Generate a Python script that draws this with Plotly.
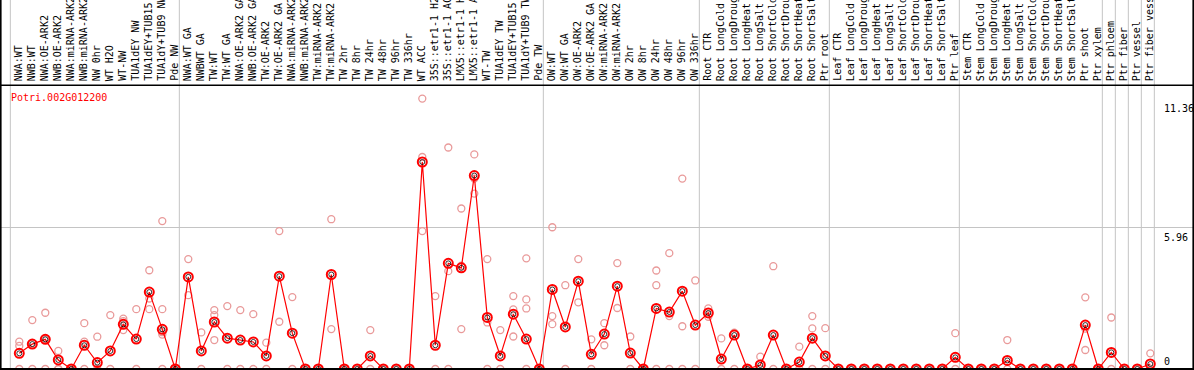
import plotly.graph_objects as go

W, H = 1194, 370

labels = ["NWA:WT", "NWB:WT", "NWA:OE-ARK2", "NWB:OE-ARK2", "NWA:miRNA-ARK2", "NWB:miRNA-ARK2",
          "NW 0hr", "WT H2O", "WT-NW", "TUA1dEY NW", "TUA1dEY+TUB15 NW", "TUA1dY+TUB9 NW", "Pde NW",
          "NWA:WT GA", "NWBWT GA", "TW:WT", "TW:WT GA", "NWA:OE-ARK2 GA", "NWB:OE-ARK2 GA",
          "TW:OE-ARK2", "TW:OE-ARK2 GA", "NWA:miRNA-ARK2", "NWB:miRNA-ARK2", "TW:miRNA-ARK2",
          "TW:miRNA-ARK2", "TW 2hr", "TW 8hr", "TW 24hr", "TW 48hr", "TW 96hr", "TW 336hr", "WT ACC",
          "35S::etr1-1 H2O", "35S::etr1-1 ACC", "LMX5::etr1-1 H2O", "LMX5::etr1-1 ACC", "WT-TW",
          "TUA1dEY TW", "TUA1dEY+TUB15 TW", "TUA1dY+TUB9 TW", "Pde TW",
          "OW:WT", "OW:WT GA", "OW:OE-ARK2", "OW:OE-ARK2 GA", "OW:miRNA-ARK2", "OW:miRNA-ARK2",
          "OW 2hr", "OW 8hr", "OW 24hr", "OW 48hr", "OW 96hr", "OW 336hr",
          "Root CTR", "Root LongCold", "Root LongDrought", "Root LongHeat", "Root LongSalt",
          "Root ShortCold", "Root ShortDrought", "Root ShortHeat", "Root ShortSalt", "Ptr root",
          "Leaf CTR", "Leaf LongCold", "Leaf LongDrought", "Leaf LongHeat", "Leaf LongSalt",
          "Leaf ShortCold", "Leaf ShortDrought", "Leaf ShortHeat", "Leaf ShortSalt", "Ptr leaf",
          "Stem CTR", "Stem LongCold", "Stem LongDrought", "Stem LongHeat", "Stem LongSalt",
          "Stem ShortCold", "Stem ShortDrought", "Stem ShortHeat", "Stem ShortSalt", "Ptr shoot",
          "Ptr xylem", "Ptr phloem", "Ptr fiber", "Ptr vessel", "Ptr fiber vessel"]

group_sizes = [13, 28, 12, 10, 10, 11, 1, 1, 1, 1]

means = [0.66, 1.05, 1.25, 0.38, 0, 1.0, 0.27, 0.76, 1.88, 1.26, 3.24, 1.67, 0,
         3.88, 0.76, 1.98, 1.30, 1.22, 1.14, 0.55, 3.91, 1.51, 0, 0, 3.98, 0, 0, 0.55, 0, 0, 0,
         8.72, 1.0, 4.45, 4.26, 8.15, 2.17, 0.55, 2.31, 1.26, 0,
         3.35, 1.77, 3.70, 0.62, 1.47, 3.49, 0.67, 0, 2.55, 2.40, 3.28, 1.85,
         2.36, 0.42, 1.43, 0, 0.17, 1.43, 0, 0.29, 1.30, 0.55,
         0, 0, 0, 0, 0, 0, 0, 0, 0, 0.49,
         0, 0, 0, 0.36, 0, 0, 0, 0, 0, 1.85, 0,
         0.70, 0, 0, 0.21]

replicates = [[1.15, 0.97, 0], [2.06, 1.08, 0], [2.37, 1.25, 0], [0.76, 0, 0], [0, 0], [1.93, 1.15, 0],
              [1.36, 0], [2.27, 0], [2.12, 2.02, 1.64], [2.52, 0], [4.16, 2.97, 2.52],
              [6.23, 2.52, 1.55, 1.45, 0], [0],
              [4.63, 3.11], [1.54, 0], [2.48, 2.27, 1.22], [2.65, 0], [2.48, 0], [2.31, 0], [1.11, 0],
              [5.81, 1.99], [3.03, 0], [0], [0], [6.31, 1.68], [0], [0], [1.64, 0], [0], [0], [0],
              [11.39, 8.93, 5.81], [3.07, 0], [9.33, 4.12, 0], [6.76, 4.35, 1.68], [9.04, 8.02, 7.39],
              [4.63, 1.96, 0], [1.64, 0], [3.07, 2.51, 1.37], [4.66, 2.93, 2.55, 0], [0],
              [5.97, 2.23, 1.89], [3.53, 0], [4.63, 2.81], [1.25, 0], [1.93, 1.0], [4.46, 2.57],
              [1.37, 0], [0], [4.15, 3.53, 0], [4.88, 2.23, 0], [8.02, 1.8, 0], [3.73, 0],
              [2.55, 2.2], [1.29, 0], [1.53, 0], [0], [0.52, 0], [4.33, 0], [0], [0.94, 0],
              [2.23, 1.71, 0], [1.72, 0],
              [0], [0], [0], [0], [0], [0], [0], [0], [0], [1.51, 0],
              [0], [0], [0], [1.22, 0], [0], [0], [0], [0], [0], [3.02, 1.70, 0.8], [0],
              [2.17, 0], [0], [0], [0.66, 0]]

tick_values = [0, 5.96, 11.36]
gene = "Potri.002G012200"

FONT = "DejaVu Sans Mono"

# pixel geometry -> axis ranges
step = 13.0
x0_px = 19.3
xmin = -x0_px / step
xmax = xmin + W / step
unit = 23.74
zero_px = 369.0
ymin = -(H - zero_px) / unit
ymax = ymin + H / unit


def px(p):
    return p / W


def py(p):
    return 1 - p / H


xs = list(range(len(labels)))
rx, ry = [], []
for i, reps in enumerate(replicates):
    for v in reps:
        rx.append(i)
        ry.append(v)

fig = go.Figure()
fig.add_trace(go.Scatter(x=rx, y=ry, mode="markers", hoverinfo="skip",
                         marker=dict(symbol="circle-open", size=7, color="#E99A9A",
                                     line=dict(width=1.3, color="#E99A9A"))))
fig.add_trace(go.Scatter(x=xs, y=means, mode="lines", line=dict(color="#FF0000", width=1.2)))
fig.add_trace(go.Scatter(x=xs, y=means, mode="markers",
                         marker=dict(symbol="circle-open", size=9, color="#FF0000",
                                     line=dict(width=2, color="#FF0000"))))
fig.add_trace(go.Scatter(x=xs, y=means, mode="markers",
                         marker=dict(symbol="circle-open", size=5, color="#000000",
                                     line=dict(width=0.8, color="#000000"))))

shapes = []
# group separator lines
b = 0
bounds = [0]
for g in group_sizes:
    b += g
    bounds.append(b)
for b in bounds:
    shapes.append(dict(type="line", xref="x", yref="paper", x0=b - 0.69, x1=b - 0.69,
                       y0=0, y1=1, line=dict(color="#C4C4C4", width=1), layer="below"))
# mid gridline
shapes.append(dict(type="line", xref="paper", yref="y", x0=0, x1=1, y0=tick_values[1],
                   y1=tick_values[1], line=dict(color="#C4C4C4", width=1), layer="below"))
# frame lines
shapes.append(dict(type="line", xref="paper", yref="paper", x0=px(0.8), x1=px(0.8), y0=0, y1=1,
                   line=dict(color="black", width=1.6)))
shapes.append(dict(type="line", xref="paper", yref="paper", x0=px(1193.2), x1=px(1193.2), y0=0, y1=1,
                   line=dict(color="black", width=1.6)))
shapes.append(dict(type="line", xref="paper", yref="paper", x0=0, x1=1, y0=py(85.2), y1=py(85.2),
                   line=dict(color="black", width=1.6)))
shapes.append(dict(type="line", xref="paper", yref="y", x0=0, x1=1, y0=0, y1=0,
                   line=dict(color="black", width=1.8)))

annotations = []
for i, lab in enumerate(labels):
    annotations.append(dict(x=i, y=py(83), xref="x", yref="paper", text=lab, showarrow=False,
                            textangle=-90, xanchor="center", yanchor="bottom", xshift=-1,
                            font=dict(family=FONT, size=10, color="black")))
annotations.append(dict(x=px(8.5), y=py(97), xref="paper", yref="paper", text=gene, showarrow=False,
                        xanchor="left", yanchor="middle", font=dict(family=FONT, size=10, color="#FF0000")))
for v in tick_values:
    txt = ("%g" % v)
    annotations.append(dict(x=px(1162), y=v, xref="paper", yref="y", text=txt, showarrow=False,
                            xanchor="left", yanchor=("bottom" if v == 0 else "top"),
                            yshift=(0 if v == 0 else -2),
                            font=dict(family=FONT, size=10, color="black")))

fig.update_layout(width=W, height=H, autosize=False, margin=dict(l=0, r=0, t=0, b=0, pad=0),
                  paper_bgcolor="white", plot_bgcolor="white", showlegend=False,
                  xaxis=dict(range=[xmin, xmax], visible=False, fixedrange=True),
                  yaxis=dict(range=[ymin, ymax], visible=False, fixedrange=True),
                  shapes=shapes, annotations=annotations)

fig.write_html("out.html", config={"displayModeBar": False},
               post_script="document.body.style.margin='0';document.body.style.overflow='hidden';")
